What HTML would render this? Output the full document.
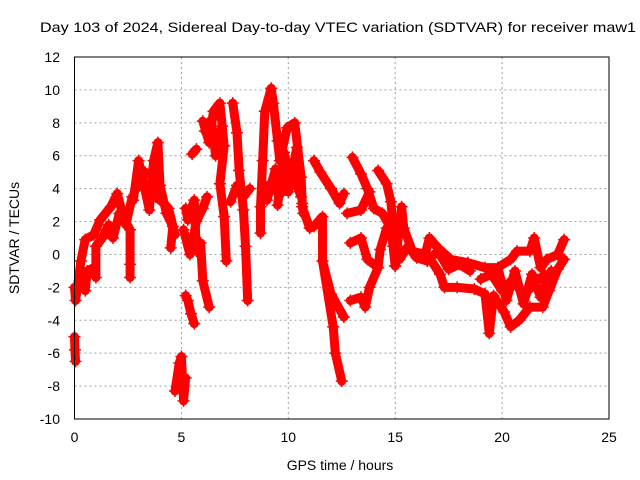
<!DOCTYPE html>
<html><head><meta charset="utf-8"><style>
body{margin:0;background:#fff}
svg{display:block;font-family:"Liberation Sans",sans-serif}
</style></head><body>
<svg id="c" width="640" height="480" viewBox="0 0 640 480">
<rect width="640" height="480" fill="#fff"/>
<g id="grid"></g><g id="marks"></g><g id="axes"></g>
</svg>
<script>
const xTicks=[0,5,10,15,20,25];
const yTicks=[-10,-8,-6,-4,-2,0,2,4,6,8,10,12];
// traces: times (hours) and SDTVAR values (TECU)
const tA=[0,0.05,0.3,0.5,0.9,1.2,1.7,2.0,2.3,2.6,2.6,2.6];
const vA=[-2,-2.8,-0.4,0.9,1.2,2.1,2.9,3.7,2.2,1.5,-0.6,-1.4];
const tA2=[0.5,0.6,0.9,1.0,1.0,1.3,1.6];
const vA2=[-2.2,-1.0,-0.8,-1.4,0.5,1.0,1.8];
const tA3=[0,0.02,0.05];
const vA3=[-5.0,-5.8,-6.5];
const tA4=[1.5,1.8,2.1,2.4,2.7];
const vA4=[1.5,1.0,2.5,1.8,3.5];
const tB=[2.75,3.0,3.2,3.5,3.7,3.9,4.0,4.3,4.6,4.5];
const vB=[3.3,5.7,4.5,2.7,5.7,6.8,4.2,2.5,1.7,0.4];
const tB2=[2.9,3.3,3.6,3.8,4.1,4.4,4.7];
const vB2=[4.0,5.0,4.8,3.5,3.2,2.8,1.2];
const tC=[4.7,4.9,5.0,5.1,5.2];
const vC=[-8.3,-6.6,-6.2,-8.9,-7.5];
const tC2=[5.2,5.3,5.45,5.6];
const vC2=[-2.5,-2.8,-3.6,-4.2];
const tD=[5.2,5.3,5.6,5.7,5.9,6.0,6.3];
const vD=[2.8,2.1,3.3,0.2,0.7,-1.6,-3.2];
const tD3=[5.1,5.4,5.7,6.0,6.2];
const vD3=[1.5,0.0,2.0,2.8,3.5];
const tD2=[5.5,5.7];
const vD2=[6.1,6.4];
const tE=[6.0,6.3,6.5,6.8,7.0,6.8,7.0,7.1];
const vE=[8.1,6.8,8.7,9.2,6.6,4.3,2.3,-0.4];
const tE2=[6.1,6.4,6.6,6.9];
const vE2=[7.5,8.2,6.0,7.8];
const tF=[7.4,7.6,7.7,7.9,8.0,8.1];
const vF=[9.2,7.4,5.1,2.7,0.5,-2.8];
const tF2=[7.3,7.6,7.9,8.2];
const vF2=[3.2,4.2,3.5,4.0];
const tG=[8.7,8.7,8.8,8.9,9.2,9.3,9.5,9.6,9.95,10.3,10.6,10.65,10.7];
const vG=[1.3,2.9,5.7,8.7,10.1,9.2,6.9,5.7,7.7,8.0,4.7,3.1,2.5];
const tG2=[8.8,9.2,9.6,10.0,10.4,10.6];
const vG2=[4.0,4.3,3.6,5.0,4.2,3.5];
const tG3=[9.0,9.4,9.7,10.0,10.3,10.5];
const vG3=[3.3,5.2,4.6,3.8,5.5,4.8];
const tG4=[9.5,9.8,10.1,10.4];
const vG4=[3.0,6.2,4.5,6.5];
const tH=[10.65,11.0,11.2,11.6,11.6,12.0,12.6];
const vH=[2.9,1.6,1.7,2.3,-0.4,-2.4,-3.8];
const tH2=[11.6,12.1,12.2,12.5];
const vH2=[-0.4,-4.4,-6.0,-7.7];
const tI=[11.2,11.5,12.0,12.4,12.6];
const vI=[5.7,5.0,4.0,3.1,3.7];
const tJ=[12.75,13.4,13.8];
const vJ=[2.5,2.7,3.8];
const tK=[13.0,13.4,13.7,14.0,14.4,14.8,14.9,15.0];
const vK=[5.9,4.9,4.0,2.8,2.5,1.6,0.5,-0.7];
const tL=[14.2,14.6,14.8,14.9,15.0];
const vL=[5.1,4.3,3.2,1.6,0.2];
const tM=[12.9,13.4,13.7,14.2,14.3,14.6];
const vM=[0.7,1.0,-0.3,-0.8,0.3,1.6];
const tN=[12.9,13.4,13.6,13.8,14.2];
const vN=[-2.8,-2.6,-3.2,-2.0,-0.8];
const tO=[15.0,15.3,15.4,15.8,16.4,16.6,17.0,17.6,18.4,19.2,19.8,20.4,20.7,21.3,21.5,21.8,22.1,22.6,22.9];
const vO=[-0.7,2.9,1.6,0.2,0.0,1.0,0.4,-0.3,-0.5,-0.8,-0.8,-0.3,0.2,0.2,1.0,-0.8,-0.3,0.0,0.9];
const tO2=[15.2,15.6,16.0,16.5,17.0,17.5,18.0,18.5];
const vO2=[-0.3,0.5,-0.2,-0.4,0.2,-0.9,-0.6,-1.0];
const tP=[16.6,17.1,17.3,17.9,18.7,19.2,19.4,19.6,20.1,20.4,20.8,21.3,21.9,22.2,22.6,22.9];
const vP=[-0.2,-1.2,-2.0,-2.0,-2.1,-2.4,-4.8,-2.5,-3.5,-4.4,-4.0,-3.2,-3.2,-2.2,-0.9,-0.3];
const tQ=[19.0,19.5,20.0,20.5,21.0,21.5,22.0];
const vQ=[-1.5,-1.2,-2.2,-1.5,-2.5,-1.8,-1.2];
const tQ2=[19.8,20.2,20.6,21.0,21.4,21.8,22.3];
const vQ2=[-0.8,-2.8,-1.0,-3.0,-1.2,-2.6,-1.0];
const traces=[[tA,vA],[tA2,vA2],[tA3,vA3],[tA4,vA4],[tB,vB],[tB2,vB2],[tC,vC],[tC2,vC2],[tD,vD],[tD2,vD2],[tD3,vD3],[tE,vE],[tE2,vE2],[tF,vF],[tF2,vF2],[tG,vG],[tG2,vG2],[tG3,vG3],[tG4,vG4],[tH,vH],[tH2,vH2],[tI,vI],[tJ,vJ],[tK,vK],[tL,vL],[tM,vM],[tN,vN],[tO,vO],[tO2,vO2],[tP,vP],[tQ,vQ],[tQ2,vQ2]];

const X0=74.5,X1=609,Y0=419,Y1=57;
const xs=t=>X0+(t-0)/25*(X1-X0);
const ys=v=>Y0-(v+10)/22*(Y0-Y1);
const NS="http://www.w3.org/2000/svg";
function mk(tag,attrs,parent){const e=document.createElementNS(NS,tag);for(const k in attrs)e.setAttribute(k,attrs[k]);parent.appendChild(e);return e;}
const grid=document.getElementById('grid'),marks=document.getElementById('marks'),axes=document.getElementById('axes'),svg=document.getElementById('c');

xTicks.forEach(t=>{
 const x=xs(t);
 if(t>0&&t<25){const g=mk('line',{x1:x,x2:x,y1:Y1,y2:Y0,stroke:'#a0a0a0','stroke-dasharray':'2,3'},grid);
 
 }
 const l=mk('text',{x:x,y:442,'text-anchor':'middle','font-size':14,fill:'#000'},axes);l.textContent=t;
 
 
});
yTicks.forEach(v=>{
 const y=ys(v);
 if(v>-10&&v<12){const g=mk('line',{x1:X0,x2:X1,y1:y,y2:y,stroke:'#a0a0a0','stroke-dasharray':'2,3'},grid);
 
 }
 const l=mk('text',{x:60,y:y+5,'text-anchor':'end','font-size':14,fill:'#000'},axes);l.textContent=v;
 
 
});
traces.forEach(([ts,vs])=>{
 const pts=ts.map((t,i)=>xs(t)+','+ys(vs[i])).join(' ');
 const p=mk('polyline',{points:pts,fill:'none',stroke:'#ff0000','stroke-width':9,'stroke-linejoin':'round','stroke-linecap':'round'},marks);
 
 
 ts.forEach((t,i)=>{const x=xs(t),y=ys(vs[i]);
  const m=mk('path',{d:`M${x-6},${y}h12M${x},${y-6}v12`,stroke:'#ff0000','stroke-width':1.5},marks);
  
  });
});
const fr=mk('rect',{x:X0,y:Y1,width:X1-X0,height:Y0-Y1,fill:'none',stroke:'#000','stroke-width':1},axes);


const ti=mk('text',{x:40,y:32,'font-size':14,fill:'#000',textLength:596,lengthAdjust:'spacingAndGlyphs'},svg);
ti.textContent='Day 103 of 2024, Sidereal Day-to-day VTEC variation (SDTVAR) for receiver maw1';


const xl=mk('text',{x:340,y:470,'text-anchor':'middle','font-size':14,fill:'#000'},svg);
xl.textContent='GPS time / hours';


const yl=mk('text',{x:0,y:0,'text-anchor':'middle','font-size':14,fill:'#000',transform:'translate(19,238) rotate(-90)'},svg);
yl.textContent='SDTVAR / TECUs';


</script>
</body></html>
